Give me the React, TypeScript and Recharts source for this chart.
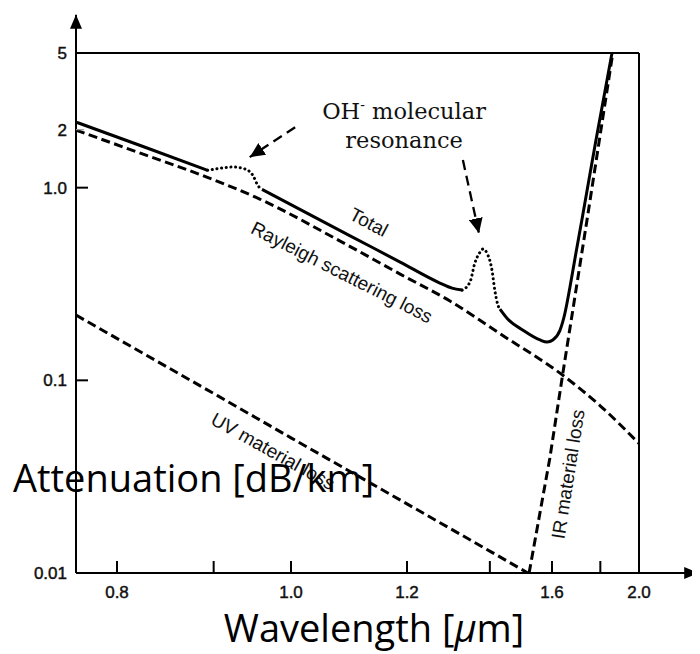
import React from "react";
import { LineChart, Line, XAxis, YAxis, ReferenceLine, ReferenceDot } from "recharts";

// wavelength [um] and attenuation [dB/km]
const totalAWl = [0.764, 0.824, 0.893];
const totalALoss = [2.19, 1.64, 1.23];
const ohBump1Wl = [0.893, 0.907, 0.923, 0.938, 0.948, 0.955, 0.96];
const ohBump1Loss = [1.23, 1.26, 1.28, 1.25, 1.16, 1.02, 0.98];
const totalBWl = [0.96, 1.092, 1.186, 1.272, 1.301, 1.326];
const totalBLoss = [0.98, 0.564, 0.411, 0.32, 0.301, 0.294];
const ohPeak2Wl = [1.326, 1.346, 1.359, 1.373, 1.381, 1.392, 1.406, 1.414, 1.423, 1.429];
const ohPeak2Loss = [0.294, 0.323, 0.406, 0.463, 0.48, 0.457, 0.373, 0.294, 0.246, 0.234];
const totalCWl = [1.429, 1.45, 1.5, 1.557, 1.582, 1.603, 1.63, 1.649, 1.669, 1.693, 1.718, 1.78, 1.856];
const totalCLoss = [0.234, 0.21, 0.182, 0.162, 0.158, 0.162, 0.182, 0.223, 0.305, 0.457, 0.679, 1.77, 5];

const rayleighWl = [0.764, 0.822, 0.892, 0.957, 1.076, 1.186, 1.296, 1.444, 1.63, 1.798, 2.0];
const rayleighLoss = [1.99, 1.51, 1.135, 0.873, 0.528, 0.356, 0.258, 0.168, 0.109, 0.074, 0.047];

const uvWl = [0.764, 0.905, 1.0, 1.194, 1.406, 1.516];
const uvLoss = [0.218, 0.083, 0.0503, 0.0233, 0.0128, 0.01];

const irWl = [1.52, 1.592, 1.641, 1.74, 1.86];
const irLoss = [0.01, 0.0394, 0.109, 0.679, 5];

const xTickWl = [0.8, 0.9, 1.0, 1.2, 1.4, 1.6, 1.8, 2.0];
const xTickLabels = ["0.8", "", "1.0", "1.2", "", "1.6", "", "2.0"];
const yTicks = [0.01, 0.1, 1, 2, 5];
const yTickLabels = ["0.01", "0.1", "1.0", "2", "5"];

const curveLabels = [
  { text: "Total", wl: 1.126, loss: 0.663, rot: 28 },
  { text: "Rayleigh scattering loss", wl: 1.079, loss: 0.364, rot: 27 },
  { text: "UV material loss", wl: 0.975, loss: 0.0429, rot: 29 },
  { text: "IR material loss", wl: 1.661, loss: 0.0326, rot: -81 },
];
const ohArrows = [
  { from: [1.006, 2.06], to: [0.944, 1.44] },
  { from: [1.328, 1.39], to: [1.37, 0.58] },
];

const wlMin = 0.764;
const wlMax = 2.0;
const lossMin = 0.01;
const lossMax = 5;

const toRows = (wl: number[], loss: number[]) => wl.map((w, i) => ({ wl: w, loss: loss[i] }));
// the axis is linear in 1/wavelength (photon energy), drawn reversed
const inv = (d: { wl: number }) => 1 / d.wl;

const sans = "'Liberation Sans', Arial, sans-serif";
const Y_AXIS_W = 68;

const XTick = (props: any) => {
  const { x, y, index } = props;
  const label = xTickLabels[index];
  return (
    <g>
      <line x1={x} x2={x} y1={y} y2={y - 12} stroke="#000" strokeWidth={2} />
      {label ? (
        <text x={x} y={y + 25} textAnchor="middle" fontSize={17} fontFamily={sans} fill="#111" stroke="#111" strokeWidth={0.45}>
          {label}
        </text>
      ) : null}
    </g>
  );
};

const YTick = (props: any) => {
  const { y, index } = props;
  const x = Y_AXIS_W;
  const len = index === 1 || index === 2 ? 12 : index === 3 ? 8 : 0;
  return (
    <g>
      {len > 0 ? (
        <line x1={x} x2={x + len} y1={y} y2={y} stroke={index === 3 ? "#999" : "#000"} strokeWidth={index === 3 ? 1.2 : 2} />
      ) : null}
      <text x={x - 9} y={y} dy="0.36em" textAnchor="end" fontSize={17} fontFamily={sans} fill="#111" stroke="#111" strokeWidth={0.45}>
        {yTickLabels[index]}
      </text>
    </g>
  );
};

const RotLabel = (props: any) => {
  const vb = props.viewBox || { x: 0, y: 0 };
  const cx = vb.x + (vb.width || 0) / 2;
  const cy = vb.y + (vb.height || 0) / 2;
  return (
    <g transform={`translate(${cx}, ${cy}) rotate(${props.rot})`}>
      <text x={0} y={0} dy="0.35em" textAnchor="middle" fontSize={19} fontFamily={sans} fill="#111">
        {props.text}
      </text>
    </g>
  );
};

const OhLabel = (props: any) => {
  const vb = props.viewBox || { x: 0, y: 0 };
  const cx = vb.x;
  const cy = vb.y;
  return (
    <text textAnchor="middle" fontFamily="'DejaVu Serif', serif" fontSize={22.5} fill="#111">
      <tspan x={cx} y={cy - 7}>
        OH<tspan dy={-9} fontSize={14}>-</tspan>
        <tspan dy={9}> molecular</tspan>
      </tspan>
      <tspan x={cx} y={cy + 22}>resonance</tspan>
    </text>
  );
};

const dash = "9 4.5";
const dots = "0.1 4.6";

export default function App() {
  return (
    <div style={{ position: "relative", width: 692, height: 646 }}>
      <LineChart width={692} height={646} margin={{ top: 45, right: 61, bottom: 0, left: 0 }}>
        <XAxis
          type="number"
          dataKey={inv}
          domain={[1 / wlMax, 1 / wlMin]}
          reversed
          allowDataOverflow
          ticks={xTickWl.map((w) => 1 / w)}
          interval={0}
          tick={<XTick />}
          tickLine={false}
          tickSize={0}
          tickMargin={0}
          height={81}
          axisLine={{ stroke: "#000", strokeWidth: 2 }}
        />
        <YAxis
          type="number"
          scale="log"
          domain={[lossMin, lossMax]}
          allowDataOverflow
          ticks={yTicks}
          interval={0}
          tick={<YTick />}
          tickLine={false}
          tickSize={0}
          tickMargin={0}
          width={Y_AXIS_W}
          axisLine={{ stroke: "#000", strokeWidth: 2 }}
        />
        <ReferenceLine y={lossMax} stroke="#000" strokeWidth={2} ifOverflow="visible" />
        <ReferenceLine x={1 / wlMax} stroke="#000" strokeWidth={2} ifOverflow="visible" />
        <ReferenceLine
          segment={[{ x: 1 / wlMin, y: lossMax }, { x: 1 / wlMin, y: 7.9 }]}
          stroke="#000"
          strokeWidth={2}
          markerEnd="url(#axArrow)"
          ifOverflow="visible"
        />
        <ReferenceLine
          segment={[{ x: 1 / wlMax, y: lossMin }, { x: 1 / 2.41, y: lossMin }]}
          stroke="#000"
          strokeWidth={2}
          markerEnd="url(#axArrow)"
          ifOverflow="visible"
        />

        <Line data={toRows(rayleighWl, rayleighLoss)} dataKey="loss" type="monotone" stroke="#000" strokeWidth={3} strokeDasharray={dash} dot={false} activeDot={false} isAnimationActive={false} />
        <Line data={toRows(uvWl, uvLoss)} dataKey="loss" type="linear" stroke="#000" strokeWidth={3} strokeDasharray={dash} dot={false} activeDot={false} isAnimationActive={false} />
        <Line data={toRows(irWl, irLoss)} dataKey="loss" type="linear" stroke="#000" strokeWidth={3} strokeDasharray={dash} dot={false} activeDot={false} isAnimationActive={false} />

        <Line data={toRows(totalAWl, totalALoss)} dataKey="loss" type="monotone" stroke="#000" strokeWidth={3} dot={false} activeDot={false} isAnimationActive={false} />
        <Line data={toRows(ohBump1Wl, ohBump1Loss)} dataKey="loss" type="monotone" stroke="#000" strokeWidth={3} strokeDasharray={dots} strokeLinecap="round" dot={false} activeDot={false} isAnimationActive={false} />
        <Line data={toRows(totalBWl, totalBLoss)} dataKey="loss" type="monotone" stroke="#000" strokeWidth={3} dot={false} activeDot={false} isAnimationActive={false} />
        <Line data={toRows(ohPeak2Wl, ohPeak2Loss)} dataKey="loss" type="monotone" stroke="#000" strokeWidth={3} strokeDasharray={dots} strokeLinecap="round" dot={false} activeDot={false} isAnimationActive={false} />
        <Line data={toRows(totalCWl, totalCLoss)} dataKey="loss" type="monotone" stroke="#000" strokeWidth={3} dot={false} activeDot={false} isAnimationActive={false} />

        {ohArrows.map((a, i) => (
          <ReferenceLine
            key={`arr${i}`}
            segment={[{ x: 1 / a.from[0], y: a.from[1] }, { x: 1 / a.to[0], y: a.to[1] }]}
            stroke="#000"
            strokeWidth={2.3}
            strokeDasharray="10 6"
            markerEnd="url(#annArrow)"
            ifOverflow="visible"
          />
        ))}
        {curveLabels.map((l) => (
          <ReferenceDot
            key={l.text}
            x={1 / l.wl}
            y={l.loss}
            r={0}
            fill="none"
            stroke="none"
            ifOverflow="visible"
            label={<RotLabel text={l.text} rot={l.rot} />}
          />
        ))}
        <ReferenceDot x={1 / 1.194} y={2.09} r={0} fill="none" stroke="none" ifOverflow="visible" label={<OhLabel />} />
      </LineChart>
      <svg width={692} height={646} style={{ position: "absolute", left: 0, top: 0, pointerEvents: "none" }}>
        <defs>
          <marker id="axArrow" markerUnits="userSpaceOnUse" markerWidth={14} markerHeight={12} refX={14} refY={6} orient="auto">
            <path d="M0,0 L14,6 L0,12 z" fill="#000" />
          </marker>
          <marker id="annArrow" markerUnits="userSpaceOnUse" markerWidth={15} markerHeight={14} refX={15} refY={7} orient="auto">
            <path d="M0,0 L15,7 L0,14 z" fill="#000" />
          </marker>
        </defs>
        <text x={5} y={484} fontFamily="'Open Sans', sans-serif" fontSize={38} fill="#000">
          Attenuation [dB/km]
        </text>
        <text x={366} y={634} textAnchor="middle" fontFamily="'Open Sans', sans-serif" fontSize={38} fill="#000">
          Wavelength [<tspan fontStyle="italic">μ</tspan>m]
        </text>
      </svg>
    </div>
  );
}
